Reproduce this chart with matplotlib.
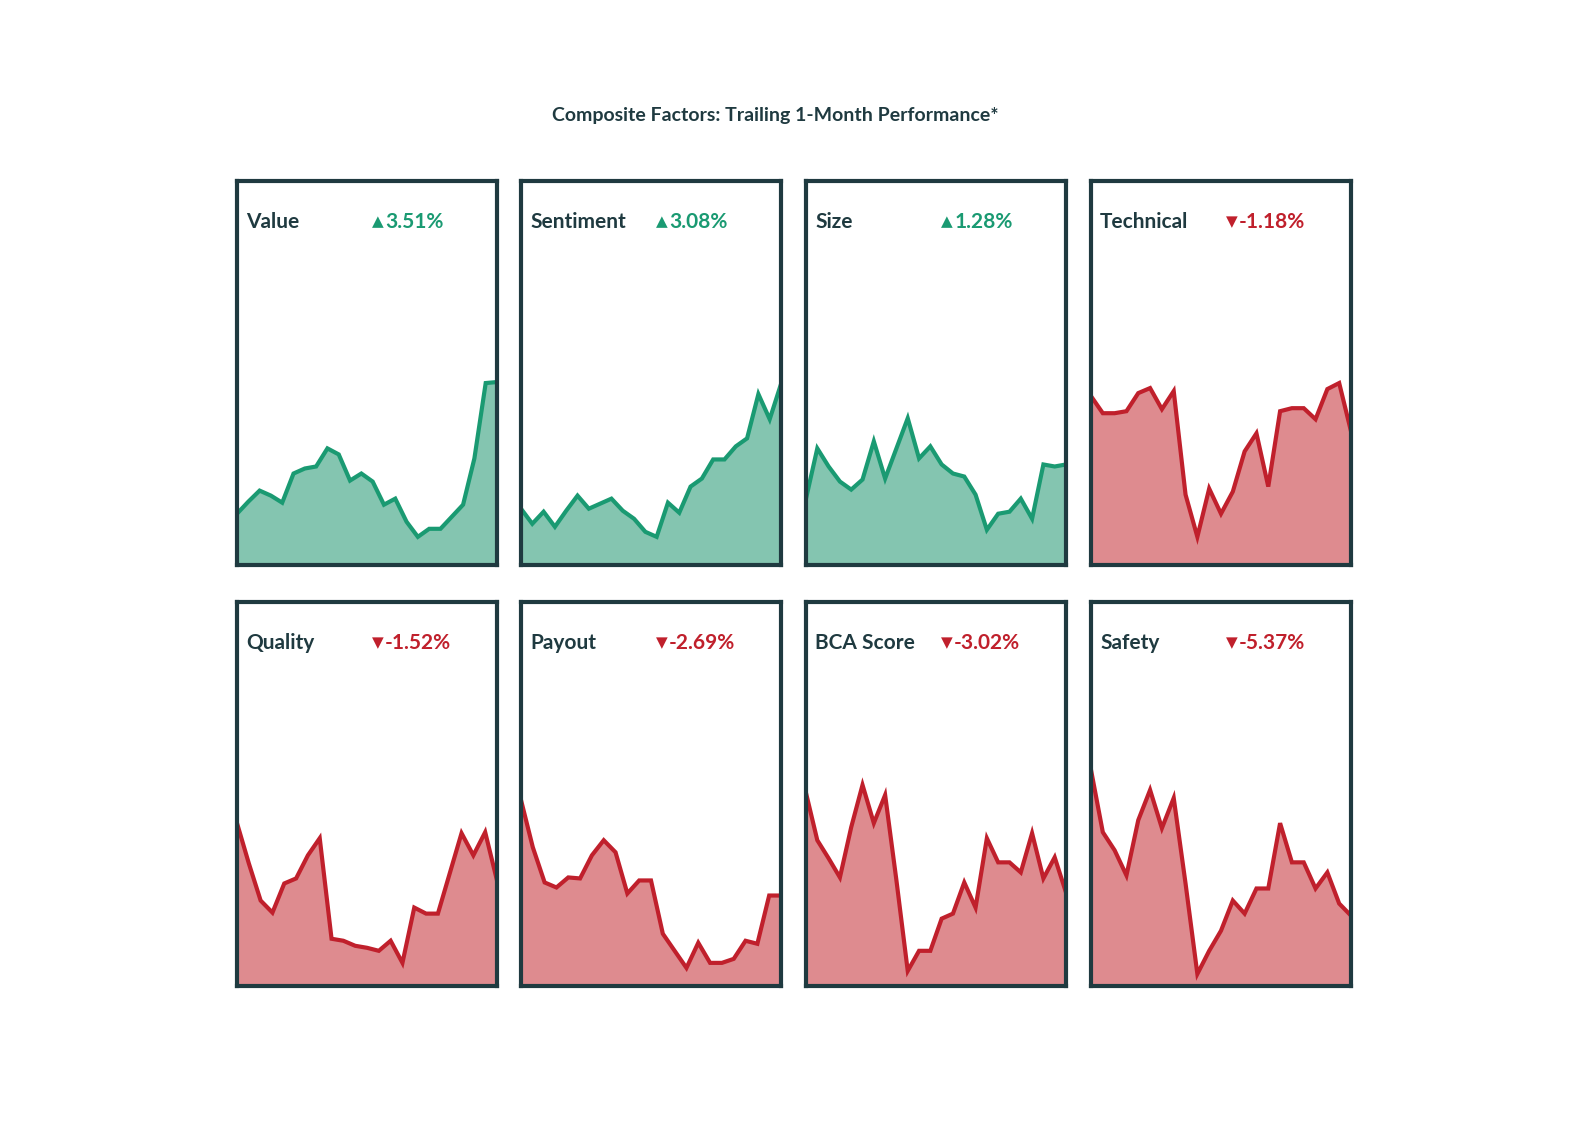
import matplotlib
matplotlib.use("Agg")
import matplotlib.pyplot as plt

names = ["Value", "Sentiment", "Size", "Technical", "Quality", "Payout", "BCA Score", "Safety"]
changes = [3.51, 3.08, 1.28, -1.18, -1.52, -2.69, -3.02, -5.37]
value = [51,63,74,69,62,91,96,98,116,110,84,91,83,60,66,43,28,36,36,48,60,106,181,182]
sentiment = [56,41,53,38,54,69,56,61,66,54,46,33,28,62,52,78,86,105,105,118,126,170,145,180]
size = [66,116,98,83,75,85,123,86,116,146,106,118,100,91,88,70,35,51,53,66,46,100,98,100]
technical = [168,151,151,153,171,176,155,173,70,28,76,51,73,113,131,78,153,156,156,145,175,181,133]
quality = [162,122,85,73,102,107,130,147,47,45,40,38,35,45,23,78,72,72,112,152,130,153,105]
payout = [185,138,103,98,108,107,130,145,133,92,105,105,52,35,18,43,23,23,27,45,42,90,90]
bca = [192,145,127,108,158,200,162,190,105,15,35,35,67,72,103,78,147,123,123,113,152,107,128,93]
safety = [215,153,135,110,165,195,157,187,102,12,35,55,85,72,97,97,162,123,123,97,113,82,70]
series = [value, sentiment, size, technical, quality, payout, bca, safety]

GREEN_L, GREEN_F = "#1a9a72", "#84c5b0"
RED_L, RED_F = "#c0202c", "#de8b8f"
FRAME = "#1f3a40"
plt.rcParams['font.family'] = ['Lato', 'DejaVu Sans']

fig = plt.figure(figsize=(15.96, 11.44), dpi=100)
fig.text(775/1596, 1-116/1144, "Composite Factors: Trailing 1-Month Performance*",
         ha="center", va="center", fontsize=14, color="#1f3a40", fontweight="bold")
lefts = [237, 521, 806, 1091]
tops = [181, 602]
W, H = 260, 384
for i, (nm, ch, s) in enumerate(zip(names, changes, series)):
    r, c = divmod(i, 4)
    ax = fig.add_axes([lefts[c]/1596, 1-(tops[r]+H)/1144, W/1596, H/1144])
    up = ch >= 0
    lc, fc = (GREEN_L, GREEN_F) if up else (RED_L, RED_F)
    x = list(range(len(s)))
    ax.fill_between(x, 0, s, color=fc, lw=0)
    ax.plot(x, s, color=lc, lw=3, solid_joinstyle="miter")
    ax.set_xlim(0, len(s)-1)
    ax.set_ylim(0, 382)
    ax.set_xticks([]); ax.set_yticks([])
    for sp in ax.spines.values():
        sp.set_color(FRAME); sp.set_linewidth(3)
    ax.text(0.035, 0.893, nm, transform=ax.transAxes, fontsize=15, color="#1f3a40",
            fontweight="bold", va="center", ha="left")
    sym = "▲" if up else "▼"
    ax.text(0.52, 0.893, sym, transform=ax.transAxes, fontsize=11,
            color=lc, va="center", ha="left", family="DejaVu Sans")
    ax.text(0.57, 0.893, f"{ch:.2f}%", transform=ax.transAxes, fontsize=15,
            color=lc, fontweight="bold", va="center", ha="left")
fig.savefig("out.png", dpi=100, facecolor="white")
